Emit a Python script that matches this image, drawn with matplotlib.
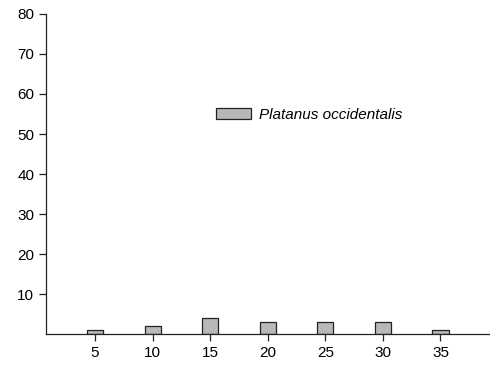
import matplotlib
matplotlib.use('Agg')
from matplotlib import pyplot as plt

plt.rcParams['font.family'] = ['Liberation Sans', 'DejaVu Sans']

# chart data
positions = [5, 10, 15, 20, 25, 30, 35]
counts = [1, 2, 4, 3, 3, 3, 1]
y_ticks = [10, 20, 30, 40, 50, 60, 70, 80]
series_name = 'Platanus occidentalis'

fig = plt.figure(figsize=(4.9, 3.66), dpi=100)
ax = fig.add_axes([0.094, 0.087, 0.906, 0.875])

ax.bar(positions, counts, width=1.4, color='#b8b8b8', edgecolor='#222222',
       linewidth=0.9, label=series_name)

ax.set_xlim(0.75, 39.3)
ax.set_ylim(0, 80)
ax.set_xticks(positions)
ax.set_yticks(y_ticks)
ax.tick_params(direction='out', length=5, width=0.9, labelsize=11, color='#222222')

for side in ['top', 'right']:
    ax.spines[side].set_visible(False)
for side in ['left', 'bottom']:
    ax.spines[side].set_linewidth(0.9)
    ax.spines[side].set_color('#222222')

leg = ax.legend(loc='center left', bbox_to_anchor=(0.351, 0.685), frameon=False,
                handlelength=2.3, handleheight=0.75, handletextpad=0.55,
                prop={'style': 'italic', 'size': 11})

fig.savefig('out.png', dpi=100, facecolor='white')
